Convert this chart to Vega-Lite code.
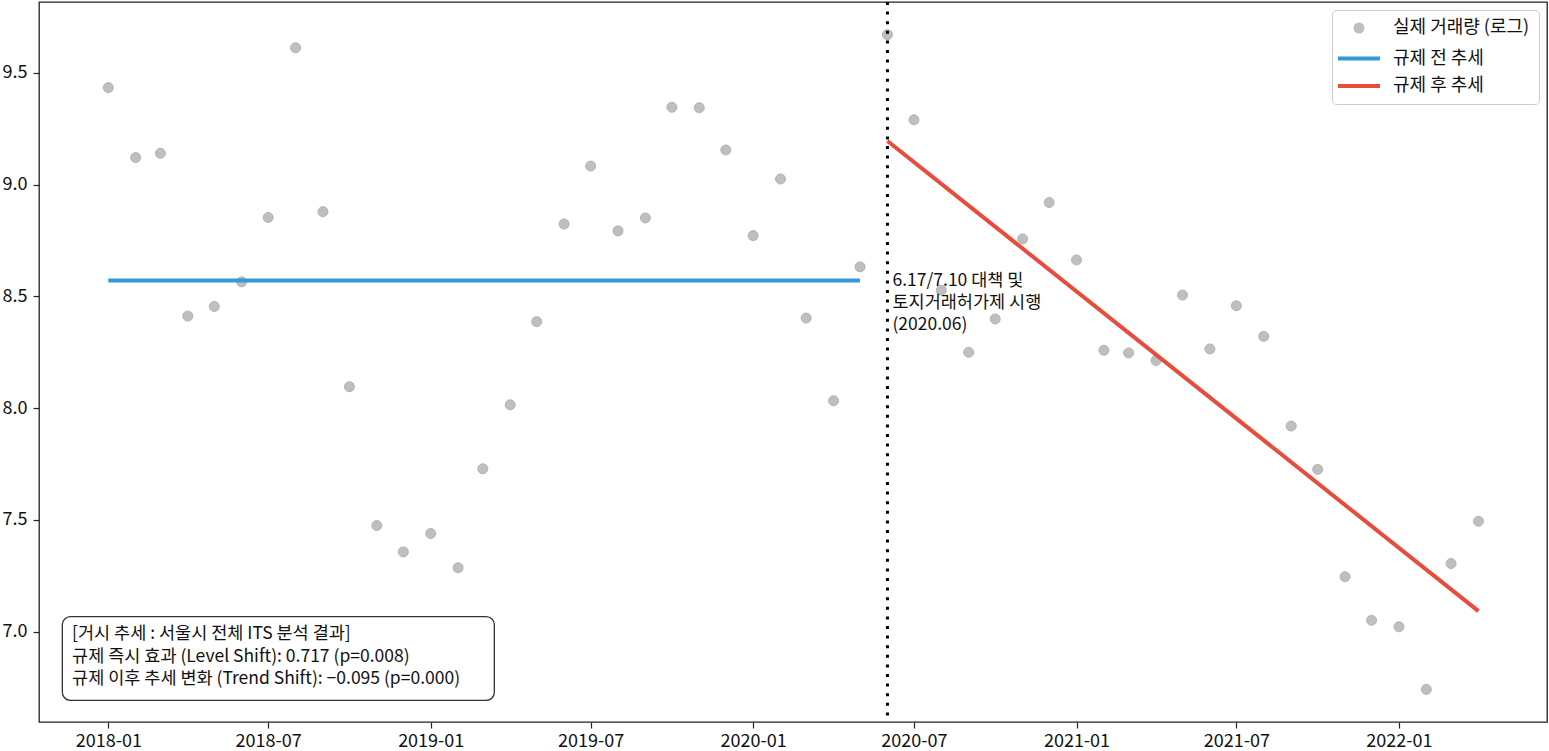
{
  "$schema": "https://vega.github.io/schema/vega-lite/v6.json",
  "width": 1508,
  "height": 720,
  "autosize": {"type": "none"},
  "padding": {"left": 39, "top": 2, "right": 2, "bottom": 29},
  "background": "white",
  "config": {
    "font": "Noto Sans CJK KR",
    "view": {"stroke": "#222222", "strokeWidth": 1.3},
    "axis": {
      "grid": false,
      "domain": false,
      "title": null,
      "labelFont": "Noto Sans CJK KR",
      "labelFontSize": 18,
      "labelColor": "#111111",
      "tickColor": "#222222",
      "tickSize": 6,
      "tickWidth": 1.2
    },
    "legend": {
      "orient": "top-right",
      "offset": 8,
      "padding": 9,
      "fillColor": "rgba(255,255,255,0.85)",
      "strokeColor": "#cccccc",
      "cornerRadius": 4,
      "labelFont": "Noto Sans CJK KR",
      "labelFontSize": 18,
      "labelColor": "#111111",
      "symbolSize": 49,
      "symbolStrokeWidth": 4,
      "symbolOpacity": 1,
      "symbolOffset": 9,
      "labelOffset": 25,
      "rowPadding": 9.5
    }
  },
  "datasets": {
    "actual": [
      {"date": "2018-01-01", "value": 9.434, "series": "실제 거래량 (로그)"},
      {"date": "2018-02-01", "value": 9.121, "series": "실제 거래량 (로그)"},
      {"date": "2018-03-01", "value": 9.140, "series": "실제 거래량 (로그)"},
      {"date": "2018-04-01", "value": 8.412, "series": "실제 거래량 (로그)"},
      {"date": "2018-05-01", "value": 8.455, "series": "실제 거래량 (로그)"},
      {"date": "2018-06-01", "value": 8.565, "series": "실제 거래량 (로그)"},
      {"date": "2018-07-01", "value": 8.853, "series": "실제 거래량 (로그)"},
      {"date": "2018-08-01", "value": 9.612, "series": "실제 거래량 (로그)"},
      {"date": "2018-09-01", "value": 8.879, "series": "실제 거래량 (로그)"},
      {"date": "2018-10-01", "value": 8.096, "series": "실제 거래량 (로그)"},
      {"date": "2018-11-01", "value": 7.475, "series": "실제 거래량 (로그)"},
      {"date": "2018-12-01", "value": 7.357, "series": "실제 거래량 (로그)"},
      {"date": "2019-01-01", "value": 7.439, "series": "실제 거래량 (로그)"},
      {"date": "2019-02-01", "value": 7.286, "series": "실제 거래량 (로그)"},
      {"date": "2019-03-01", "value": 7.729, "series": "실제 거래량 (로그)"},
      {"date": "2019-04-01", "value": 8.015, "series": "실제 거래량 (로그)"},
      {"date": "2019-05-01", "value": 8.387, "series": "실제 거래량 (로그)"},
      {"date": "2019-06-01", "value": 8.824, "series": "실제 거래량 (로그)"},
      {"date": "2019-07-01", "value": 9.083, "series": "실제 거래량 (로그)"},
      {"date": "2019-08-01", "value": 8.793, "series": "실제 거래량 (로그)"},
      {"date": "2019-09-01", "value": 8.851, "series": "실제 거래량 (로그)"},
      {"date": "2019-10-01", "value": 9.346, "series": "실제 거래량 (로그)"},
      {"date": "2019-11-01", "value": 9.344, "series": "실제 거래량 (로그)"},
      {"date": "2019-12-01", "value": 9.155, "series": "실제 거래량 (로그)"},
      {"date": "2020-01-01", "value": 8.772, "series": "실제 거래량 (로그)"},
      {"date": "2020-02-01", "value": 9.025, "series": "실제 거래량 (로그)"},
      {"date": "2020-03-01", "value": 8.403, "series": "실제 거래량 (로그)"},
      {"date": "2020-04-01", "value": 8.033, "series": "실제 거래량 (로그)"},
      {"date": "2020-05-01", "value": 8.632, "series": "실제 거래량 (로그)"},
      {"date": "2020-06-01", "value": 9.671, "series": "실제 거래량 (로그)"},
      {"date": "2020-07-01", "value": 9.290, "series": "실제 거래량 (로그)"},
      {"date": "2020-08-01", "value": 8.528, "series": "실제 거래량 (로그)"},
      {"date": "2020-09-01", "value": 8.250, "series": "실제 거래량 (로그)"},
      {"date": "2020-10-01", "value": 8.399, "series": "실제 거래량 (로그)"},
      {"date": "2020-11-01", "value": 8.757, "series": "실제 거래량 (로그)"},
      {"date": "2020-12-01", "value": 8.920, "series": "실제 거래량 (로그)"},
      {"date": "2021-01-01", "value": 8.663, "series": "실제 거래량 (로그)"},
      {"date": "2021-02-01", "value": 8.259, "series": "실제 거래량 (로그)"},
      {"date": "2021-03-01", "value": 8.247, "series": "실제 거래량 (로그)"},
      {"date": "2021-04-01", "value": 8.213, "series": "실제 거래량 (로그)"},
      {"date": "2021-05-01", "value": 8.506, "series": "실제 거래량 (로그)"},
      {"date": "2021-06-01", "value": 8.265, "series": "실제 거래량 (로그)"},
      {"date": "2021-07-01", "value": 8.458, "series": "실제 거래량 (로그)"},
      {"date": "2021-08-01", "value": 8.321, "series": "실제 거래량 (로그)"},
      {"date": "2021-09-01", "value": 7.920, "series": "실제 거래량 (로그)"},
      {"date": "2021-10-01", "value": 7.726, "series": "실제 거래량 (로그)"},
      {"date": "2021-11-01", "value": 7.246, "series": "실제 거래량 (로그)"},
      {"date": "2021-12-01", "value": 7.051, "series": "실제 거래량 (로그)"},
      {"date": "2022-01-01", "value": 7.022, "series": "실제 거래량 (로그)"},
      {"date": "2022-02-01", "value": 6.742, "series": "실제 거래량 (로그)"},
      {"date": "2022-03-01", "value": 7.305, "series": "실제 거래량 (로그)"},
      {"date": "2022-04-01", "value": 7.494, "series": "실제 거래량 (로그)"}
    ],
    "trend": [
      {"date": "2018-01-01", "value": 8.571, "series": "규제 전 추세"},
      {"date": "2020-05-01", "value": 8.571, "series": "규제 전 추세"},
      {"date": "2020-06-01", "value": 9.195, "series": "규제 후 추세"},
      {"date": "2022-04-01", "value": 7.092, "series": "규제 후 추세"}
    ]
  },
  "layer": [
    {
      "data": {"name": "actual"},
      "mark": {"type": "point", "filled": true, "size": 100, "opacity": 1, "strokeWidth": 1},
      "encoding": {
        "x": {
          "field": "date",
          "type": "temporal",
          "scale": {
            "type": "utc",
            "domain": [
              {"year": 2017, "month": 10, "date": 14, "hours": 14, "utc": true},
              {"year": 2022, "month": 6, "date": 17, "hours": 14, "utc": true}
            ]
          },
          "axis": {
            "labelExpr": "utcFormat(datum.value, '%Y-%m')",
            "labelFlush": false,
            "labelOverlap": false,
            "labelPadding": 4,
            "values": [
              {"year": 2018, "month": 1, "date": 1, "utc": true},
              {"year": 2018, "month": 7, "date": 1, "utc": true},
              {"year": 2019, "month": 1, "date": 1, "utc": true},
              {"year": 2019, "month": 7, "date": 1, "utc": true},
              {"year": 2020, "month": 1, "date": 1, "utc": true},
              {"year": 2020, "month": 7, "date": 1, "utc": true},
              {"year": 2021, "month": 1, "date": 1, "utc": true},
              {"year": 2021, "month": 7, "date": 1, "utc": true},
              {"year": 2022, "month": 1, "date": 1, "utc": true}
            ]
          }
        },
        "y": {
          "field": "value",
          "type": "quantitative",
          "scale": {"domain": [6.596, 9.817], "zero": false, "nice": false},
          "axis": {"values": [7, 7.5, 8, 8.5, 9, 9.5], "format": ".1f", "labelPadding": 6}
        },
        "color": {
          "field": "series",
          "type": "nominal",
          "scale": {
            "domain": ["실제 거래량 (로그)", "규제 전 추세", "규제 후 추세"],
            "range": ["#bfbfbf", "#3498db", "#e74c3c"]
          },
          "legend": {"title": null}
        },
        "shape": {
          "field": "series",
          "type": "nominal",
          "scale": {
            "domain": ["실제 거래량 (로그)", "규제 전 추세", "규제 후 추세"],
            "range": ["circle", "M-6,0H6", "M-6,0H6"]
          },
          "legend": {"title": null}
        },
        "stroke": {
          "field": "series",
          "type": "nominal",
          "scale": {
            "domain": ["실제 거래량 (로그)", "규제 전 추세", "규제 후 추세"],
            "range": ["#b3b3b3", "#3498db", "#e74c3c"]
          },
          "legend": {"title": null}
        }
      }
    },
    {
      "data": {"name": "trend"},
      "mark": {"type": "line", "strokeWidth": 4},
      "encoding": {
        "x": {"field": "date", "type": "temporal"},
        "y": {"field": "value", "type": "quantitative"},
        "color": {"field": "series", "type": "nominal", "legend": null}
      }
    },
    {
      "data": {"values": [{}]},
      "mark": {"type": "rule", "strokeDash": [3, 6.6], "strokeWidth": 3, "color": "black"},
      "encoding": {
        "x": {"datum": {"year": 2020, "month": 6, "date": 1, "utc": true}, "type": "temporal"}
      }
    },
    {
      "data": {"values": [{}]},
      "mark": {
        "type": "text",
        "text": ["6.17/7.10 대책 및", "토지거래허가제 시행", "(2020.06)"],
        "align": "left",
        "baseline": "middle",
        "dx": 5,
        "fontSize": 17.5,
        "lineHeight": 22,
        "color": "#111111"
      },
      "encoding": {
        "x": {"datum": {"year": 2020, "month": 6, "date": 1, "utc": true}, "type": "temporal"},
        "y": {"datum": 8.568, "type": "quantitative"}
      }
    },
    {
      "data": {"values": [{}]},
      "mark": {"type": "rect", "fill": "white", "stroke": "#333333", "strokeWidth": 1.3, "cornerRadius": 8},
      "encoding": {
        "x": {"datum": {"year": 2017, "month": 11, "date": 10, "utc": true}, "type": "temporal"},
        "x2": {"datum": {"year": 2019, "month": 3, "date": 14, "utc": true}},
        "y": {"datum": 7.067, "type": "quantitative"},
        "y2": {"datum": 6.693}
      }
    },
    {
      "data": {"values": [{}]},
      "mark": {
        "type": "text",
        "text": ["[거시 추세 : 서울시 전체 ITS 분석 결과]", "규제 즉시 효과 (Level Shift): 0.717 (p=0.008)", "규제 이후 추세 변화 (Trend Shift): −0.095 (p=0.000)"],
        "align": "left",
        "baseline": "middle",
        "fontSize": 17.5,
        "lineHeight": 22.5,
        "color": "#111111"
      },
      "encoding": {
        "x": {"datum": {"year": 2017, "month": 11, "date": 21, "utc": true}, "type": "temporal"},
        "y": {"datum": 6.988, "type": "quantitative"}
      }
    }
  ]
}
